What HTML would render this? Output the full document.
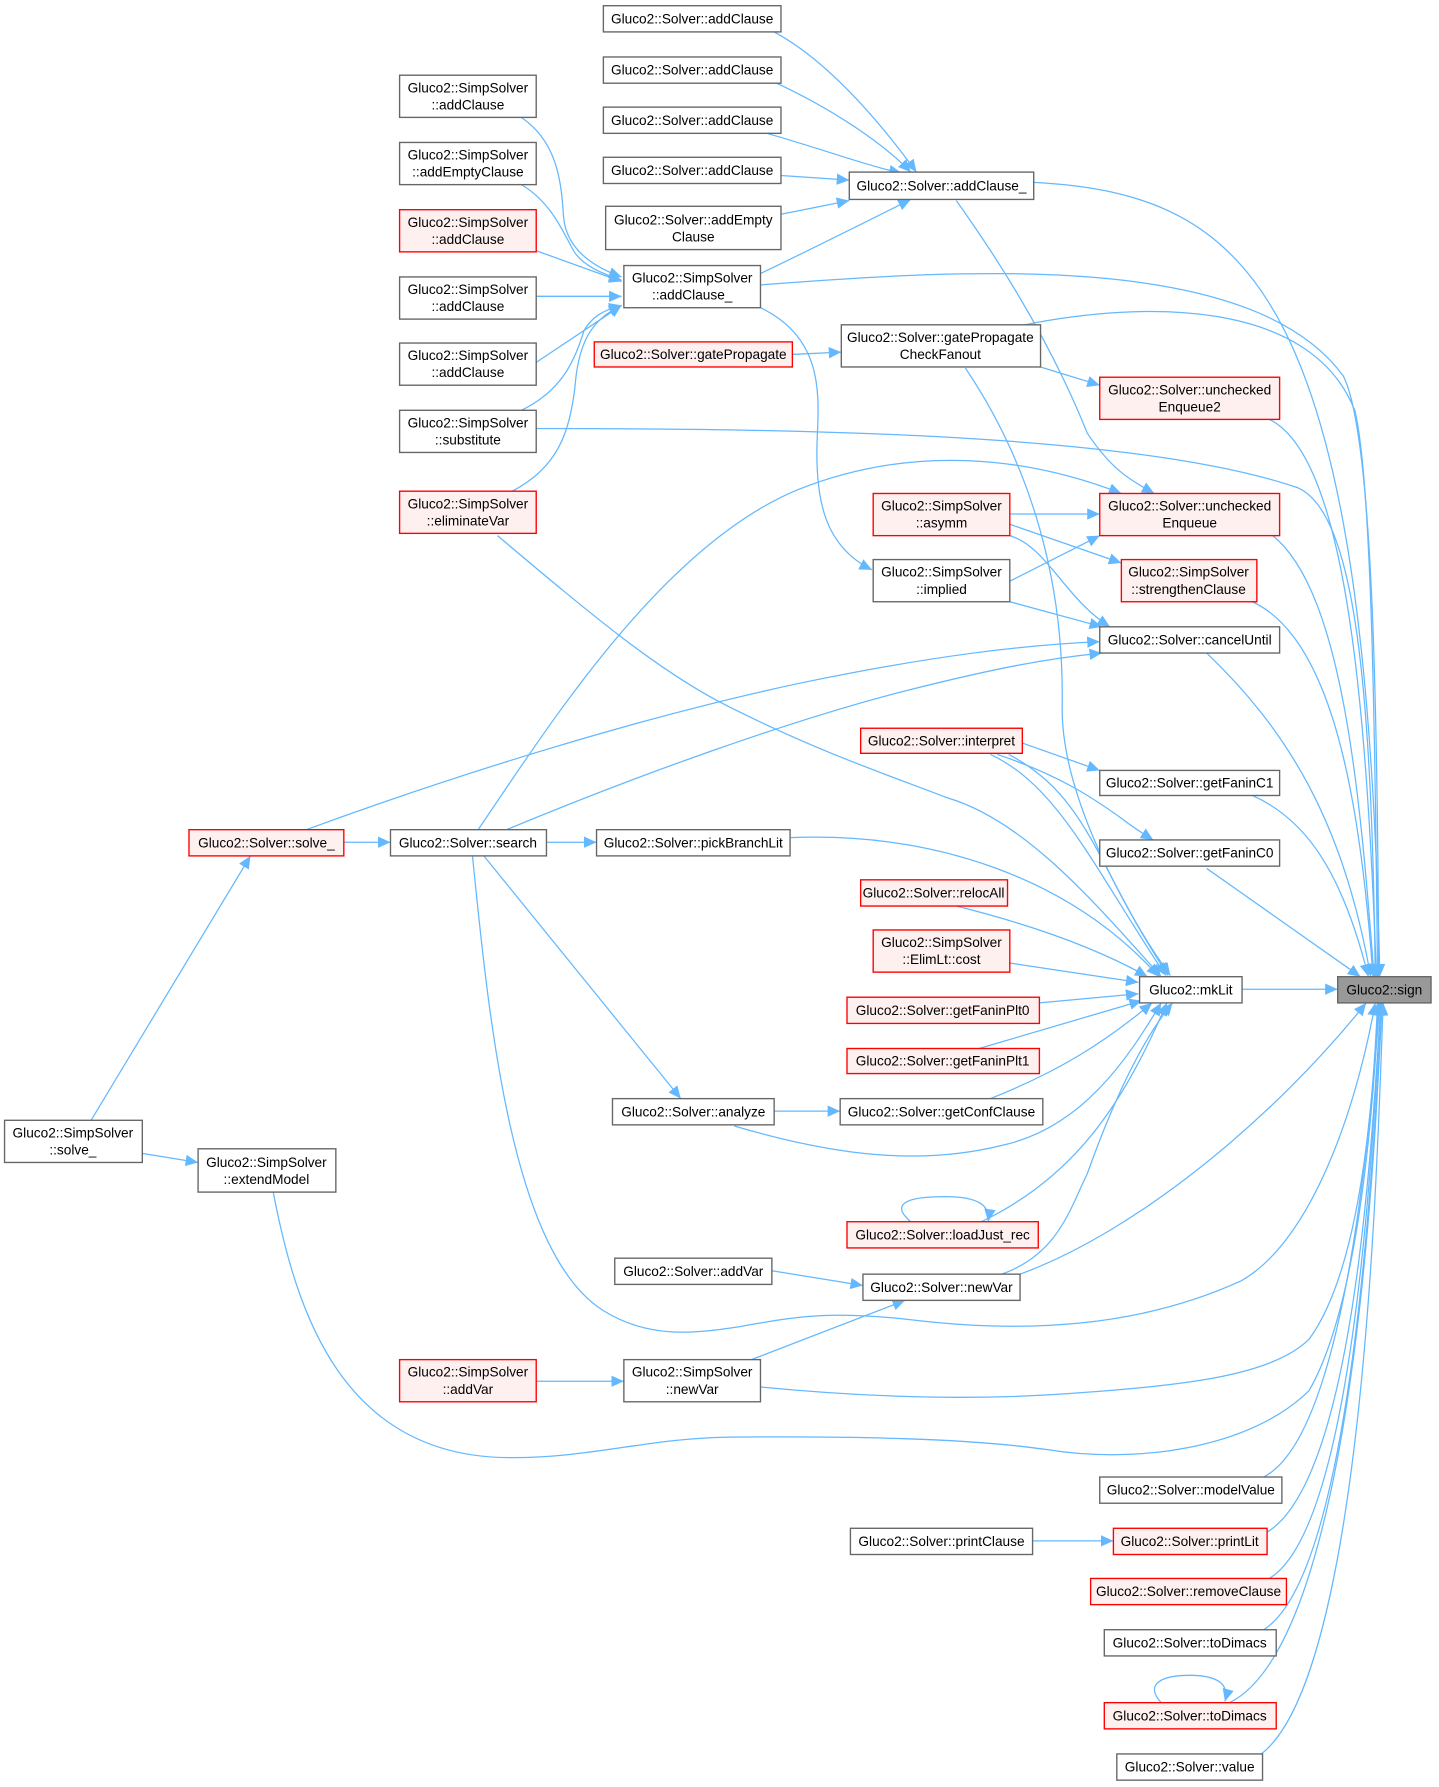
<!DOCTYPE html>
<html><head><meta charset="utf-8"><style>
html,body{margin:0;padding:0;background:#fff;}
svg{display:block;}
text{font-family:"Liberation Sans",Arial,sans-serif;font-size:12px;fill:#000;}
.e{fill:none;stroke:#63b8ff;stroke-width:1.1;}
.n{fill:#fff;stroke:#666;stroke-width:1.2;}
.r{fill:#fff0f0;stroke:#ff0000;stroke-width:1.2;}
.g{fill:#999;stroke:#666;stroke-width:1.2;}
</style></head><body>
<svg width="1439" height="1787" viewBox="0 0 1264 1568" preserveAspectRatio="none" xmlns="http://www.w3.org/2000/svg">
<defs>
<marker id="a" markerUnits="userSpaceOnUse" markerWidth="12" markerHeight="10" refX="11" refY="5" orient="auto">
<path d="M0,0 L11,5 L0,10 z" fill="#63b8ff"/>
</marker>
</defs>
<g marker-end="url(#a)">
<!-- into Solver::addClause_ -->
<path class="e" d="M680,28 C730,55 775,110 805,151"/>
<path class="e" d="M680,72 C730,95 775,125 800,151"/>
<path class="e" d="M670,116 C720,130 760,145 792,152"/>
<path class="e" d="M686,154 L746,158"/>
<path class="e" d="M686,188 L746,176"/>
<path class="e" d="M668,240 C710,220 760,195 800,175"/>
<!-- into SimpSolver::addClause_ -->
<path class="e" d="M458,103 C490,125 493,160 495,190 C497,215 515,232 546,243"/>
<path class="e" d="M458,162 C485,178 495,205 505,222 C515,235 530,240 546,246"/>
<path class="e" d="M471,220 L546,247"/>
<path class="e" d="M471,260 L546,260"/>
<path class="e" d="M471,318 L546,268"/>
<path class="e" d="M458,360 C495,342 505,315 513,290 C520,278 530,272 546,268"/>
<path class="e" d="M450,431 C490,410 500,380 505,340 C508,300 520,280 546,268"/>
<!-- misc -->
<path class="e" d="M696,311 L739,309"/>
<path class="e" d="M914,322 L966,338"/>
<path class="e" d="M840,176 C900,260 935,330 955,380 C975,410 990,420 1014,433"/>
<path class="e" d="M668,270 C720,295 720,340 718,380 C715,440 725,480 766,500"/>
<path class="e" d="M420,728 C480,640 580,480 700,430 C800,390 900,400 985,433"/>
<path class="e" d="M887,451 L966,451"/>
<path class="e" d="M887,510 L966,470"/>
<path class="e" d="M887,460 L985,494"/>
<path class="e" d="M887,470 C920,480 935,525 975,550"/>
<path class="e" d="M887,528 L968,550"/>
<path class="e" d="M269,728 C400,680 560,630 700,600 C820,575 900,566 966,563"/>
<path class="e" d="M445,728 C560,680 700,630 800,605 C880,585 920,578 968,573"/>
<path class="e" d="M898,652 L966,676"/>
<path class="e" d="M876,662 C930,680 960,700 985,718 C995,726 1005,732 1013,737"/>
<path class="e" d="M80,983 L220,751"/>
<path class="e" d="M125,1012 L174,1020"/>
<path class="e" d="M302,739 L343,739"/>
<path class="e" d="M480,739 L524,739"/>
<path class="e" d="M425,751 L598,964"/>
<path class="e" d="M680,975 L738,975"/>
<path class="e" d="M678,1115 L758,1128"/>
<path class="e" d="M660,1193 L795,1141"/>
<path class="e" d="M471,1212 L548,1212"/>
<path class="e" d="M907,1352 L978,1352"/>
<!-- into mkLit -->
<path class="e" d="M848,323 C900,400 935,500 933,620 C932,700 990,800 1026,856"/>
<path class="e" d="M886,662 C960,700 965,770 1028,856"/>
<path class="e" d="M870,662 C930,690 960,760 1024,856"/>
<path class="e" d="M437,470 C520,540 580,590 640,620 C720,660 780,680 832,700 C900,720 960,790 1020,857"/>
<path class="e" d="M694,735 C820,730 940,770 1018,857"/>
<path class="e" d="M840,795 C900,810 960,830 1008,857"/>
<path class="e" d="M887,845 L1000,862"/>
<path class="e" d="M913,880 L1000,872"/>
<path class="e" d="M860,920 L1003,878"/>
<path class="e" d="M870,964 C930,940 970,915 1012,880"/>
<path class="e" d="M645,988 C720,1010 800,1025 880,1005 C950,990 990,930 1020,880"/>
<path class="e" d="M862,1072 C950,1030 990,960 1025,880"/>
<path class="e" d="M880,1118 C930,1100 940,1060 955,1030 C980,960 1005,910 1030,880"/>
<!-- into sign -->
<path class="e" d="M1090,868 L1175,868"/>
<path class="e" d="M908,160 C1100,170 1200,260 1212,857"/>
<path class="e" d="M668,250 C850,236 1100,220 1180,330 C1205,380 1210,600 1211,857"/>
<path class="e" d="M900,285 C1000,265 1150,260 1190,360 C1205,420 1208,650 1210,857"/>
<path class="e" d="M1115,368 C1180,400 1200,600 1209,857"/>
<path class="e" d="M471,376 C700,376 1000,380 1140,428 C1190,450 1205,600 1208,857"/>
<path class="e" d="M1118,470 C1180,520 1195,700 1207,857"/>
<path class="e" d="M1100,528 C1170,560 1195,700 1206,857"/>
<path class="e" d="M1060,573 C1130,640 1180,720 1204,857"/>
<path class="e" d="M1100,698 C1150,720 1180,770 1202,857"/>
<path class="e" d="M1060,762 L1195,857"/>
<path class="e" d="M896,1118 C1000,1080 1120,980 1200,880"/>
<path class="e" d="M415,751 C430,900 450,1100 530,1150 C570,1175 610,1170 650,1164 C700,1155 730,1150 800,1158 C900,1170 1000,1165 1090,1124 C1150,1090 1190,980 1208,880"/>
<path class="e" d="M668,1217 C750,1225 850,1230 950,1222 C1050,1215 1120,1205 1150,1175 C1190,1120 1205,1000 1210,880"/>
<path class="e" d="M240,1046 C260,1150 300,1280 450,1279 C520,1279 570,1262 640,1261 C750,1260 850,1262 920,1272 C1000,1285 1100,1270 1150,1220 C1190,1150 1205,1000 1211,880"/>
<path class="e" d="M1110,1296 C1180,1260 1203,1000 1212,880"/>
<path class="e" d="M1112,1345 C1190,1300 1205,1000 1213,880"/>
<path class="e" d="M1115,1385 C1190,1340 1206,1000 1213,880"/>
<path class="e" d="M1110,1430 C1190,1380 1207,1000 1214,880"/>
<path class="e" d="M1080,1494 C1190,1440 1208,1000 1214,880"/>
<path class="e" d="M1098,1545 C1200,1500 1210,1000 1215,880"/>
<!-- self loops -->
<path class="e" d="M800,1072 C780,1055 800,1050 830,1050 C860,1050 870,1058 868,1072"/>
<path class="e" d="M1020,1494 C1005,1478 1020,1470 1045,1470 C1070,1470 1080,1478 1076,1493"/>
</g>
<!-- nodes -->
<g>
<rect class="n" x="530" y="5" width="156" height="23"/><text x="608" y="20.5" text-anchor="middle">Gluco2::Solver::addClause</text>
<rect class="n" x="530" y="50" width="156" height="23"/><text x="608" y="65.5" text-anchor="middle">Gluco2::Solver::addClause</text>
<rect class="n" x="530" y="94" width="156" height="23"/><text x="608" y="109.5" text-anchor="middle">Gluco2::Solver::addClause</text>
<rect class="n" x="530" y="138" width="156" height="23"/><text x="608" y="153.5" text-anchor="middle">Gluco2::Solver::addClause</text>
<rect class="n" x="532" y="181" width="154" height="38"/><text x="609" y="197" text-anchor="middle">Gluco2::Solver::addEmpty</text><text x="609" y="212" text-anchor="middle">Clause</text>
<rect class="n" x="746" y="151" width="162" height="24"/><text x="827" y="167" text-anchor="middle">Gluco2::Solver::addClause_</text>

<rect class="n" x="351" y="66" width="120" height="37"/><text x="411" y="81" text-anchor="middle">Gluco2::SimpSolver</text><text x="411" y="96" text-anchor="middle">::addClause</text>
<rect class="n" x="351" y="125" width="120" height="37"/><text x="411" y="140" text-anchor="middle">Gluco2::SimpSolver</text><text x="411" y="155" text-anchor="middle">::addEmptyClause</text>
<rect class="r" x="351" y="184" width="120" height="37"/><text x="411" y="199" text-anchor="middle">Gluco2::SimpSolver</text><text x="411" y="214" text-anchor="middle">::addClause</text>
<rect class="n" x="351" y="243" width="120" height="37"/><text x="411" y="258" text-anchor="middle">Gluco2::SimpSolver</text><text x="411" y="273" text-anchor="middle">::addClause</text>
<rect class="n" x="351" y="301" width="120" height="37"/><text x="411" y="316" text-anchor="middle">Gluco2::SimpSolver</text><text x="411" y="331" text-anchor="middle">::addClause</text>
<rect class="n" x="351" y="360" width="120" height="37"/><text x="411" y="375" text-anchor="middle">Gluco2::SimpSolver</text><text x="411" y="390" text-anchor="middle">::substitute</text>
<rect class="r" x="351" y="431" width="120" height="37"/><text x="411" y="446" text-anchor="middle">Gluco2::SimpSolver</text><text x="411" y="461" text-anchor="middle">::eliminateVar</text>

<rect class="n" x="548" y="233" width="120" height="37"/><text x="608" y="248" text-anchor="middle">Gluco2::SimpSolver</text><text x="608" y="263" text-anchor="middle">::addClause_</text>
<rect class="r" x="522" y="300" width="174" height="22"/><text x="609" y="315" text-anchor="middle">Gluco2::Solver::gatePropagate</text>
<rect class="n" x="739" y="285" width="175" height="37"/><text x="826" y="300" text-anchor="middle">Gluco2::Solver::gatePropagate</text><text x="826" y="315" text-anchor="middle">CheckFanout</text>
<rect class="r" x="966" y="331" width="158" height="37"/><text x="1045" y="346" text-anchor="middle">Gluco2::Solver::unchecked</text><text x="1045" y="361" text-anchor="middle">Enqueue2</text>
<rect class="r" x="966" y="433" width="158" height="37"/><text x="1045" y="448" text-anchor="middle">Gluco2::Solver::unchecked</text><text x="1045" y="463" text-anchor="middle">Enqueue</text>
<rect class="r" x="767" y="433" width="120" height="37"/><text x="827" y="448" text-anchor="middle">Gluco2::SimpSolver</text><text x="827" y="463" text-anchor="middle">::asymm</text>
<rect class="r" x="985" y="491" width="119" height="37"/><text x="1044" y="506" text-anchor="middle">Gluco2::SimpSolver</text><text x="1044" y="521" text-anchor="middle">::strengthenClause</text>
<rect class="n" x="767" y="491" width="120" height="37"/><text x="827" y="506" text-anchor="middle">Gluco2::SimpSolver</text><text x="827" y="521" text-anchor="middle">::implied</text>
<rect class="n" x="966" y="550" width="158" height="23"/><text x="1045" y="565.5" text-anchor="middle">Gluco2::Solver::cancelUntil</text>
<rect class="r" x="756" y="639" width="142" height="22"/><text x="827" y="654" text-anchor="middle">Gluco2::Solver::interpret</text>
<rect class="n" x="966" y="676" width="158" height="22"/><text x="1045" y="691" text-anchor="middle">Gluco2::Solver::getFaninC1</text>
<rect class="n" x="966" y="737" width="158" height="23"/><text x="1045" y="752.5" text-anchor="middle">Gluco2::Solver::getFaninC0</text>

<rect class="r" x="166" y="728" width="136" height="23"/><text x="234" y="743.5" text-anchor="middle">Gluco2::Solver::solve_</text>
<rect class="n" x="343" y="728" width="137" height="23"/><text x="411" y="743.5" text-anchor="middle">Gluco2::Solver::search</text>
<rect class="n" x="524" y="728" width="170" height="23"/><text x="609" y="743.5" text-anchor="middle">Gluco2::Solver::pickBranchLit</text>
<rect class="r" x="756" y="772" width="129" height="23"/><text x="820" y="787.5" text-anchor="middle">Gluco2::Solver::relocAll</text>
<rect class="r" x="767" y="816" width="120" height="37"/><text x="827" y="831" text-anchor="middle">Gluco2::SimpSolver</text><text x="827" y="846" text-anchor="middle">::ElimLt::cost</text>
<rect class="r" x="744" y="875" width="169" height="23"/><text x="828" y="890.5" text-anchor="middle">Gluco2::Solver::getFaninPlt0</text>
<rect class="r" x="744" y="920" width="169" height="22"/><text x="828" y="935" text-anchor="middle">Gluco2::Solver::getFaninPlt1</text>
<rect class="n" x="1001" y="857" width="90" height="23"/><text x="1046" y="872.5" text-anchor="middle">Gluco2::mkLit</text>
<rect class="g" x="1175" y="857" width="82" height="23"/><text x="1216" y="872.5" text-anchor="middle">Gluco2::sign</text>
<rect class="n" x="538" y="964" width="142" height="23"/><text x="609" y="979.5" text-anchor="middle">Gluco2::Solver::analyze</text>
<rect class="n" x="738" y="964" width="178" height="23"/><text x="827" y="979.5" text-anchor="middle">Gluco2::Solver::getConfClause</text>
<rect class="n" x="4" y="983" width="121" height="37"/><text x="64" y="998" text-anchor="middle">Gluco2::SimpSolver</text><text x="64" y="1013" text-anchor="middle">::solve_</text>
<rect class="n" x="174" y="1008" width="121" height="38"/><text x="234" y="1024" text-anchor="middle">Gluco2::SimpSolver</text><text x="234" y="1039" text-anchor="middle">::extendModel</text>
<rect class="r" x="744" y="1072" width="168" height="23"/><text x="828" y="1087.5" text-anchor="middle">Gluco2::Solver::loadJust_rec</text>
<rect class="n" x="540" y="1104" width="138" height="23"/><text x="609" y="1119.5" text-anchor="middle">Gluco2::Solver::addVar</text>
<rect class="n" x="758" y="1118" width="138" height="23"/><text x="827" y="1133.5" text-anchor="middle">Gluco2::Solver::newVar</text>
<rect class="r" x="351" y="1193" width="120" height="37"/><text x="411" y="1208" text-anchor="middle">Gluco2::SimpSolver</text><text x="411" y="1223" text-anchor="middle">::addVar</text>
<rect class="n" x="548" y="1193" width="120" height="37"/><text x="608" y="1208" text-anchor="middle">Gluco2::SimpSolver</text><text x="608" y="1223" text-anchor="middle">::newVar</text>
<rect class="n" x="966" y="1296" width="160" height="23"/><text x="1046" y="1311.5" text-anchor="middle">Gluco2::Solver::modelValue</text>
<rect class="n" x="747" y="1341" width="160" height="23"/><text x="827" y="1356.5" text-anchor="middle">Gluco2::Solver::printClause</text>
<rect class="r" x="978" y="1341" width="135" height="23"/><text x="1045" y="1356.5" text-anchor="middle">Gluco2::Solver::printLit</text>
<rect class="r" x="958" y="1385" width="172" height="23"/><text x="1044" y="1400.5" text-anchor="middle">Gluco2::Solver::removeClause</text>
<rect class="n" x="970" y="1430" width="151" height="23"/><text x="1045" y="1445.5" text-anchor="middle">Gluco2::Solver::toDimacs</text>
<rect class="r" x="970" y="1494" width="151" height="23"/><text x="1045" y="1509.5" text-anchor="middle">Gluco2::Solver::toDimacs</text>
<rect class="n" x="981" y="1539" width="128" height="23"/><text x="1045" y="1554.5" text-anchor="middle">Gluco2::Solver::value</text>
</g>
</svg>
</body></html>
